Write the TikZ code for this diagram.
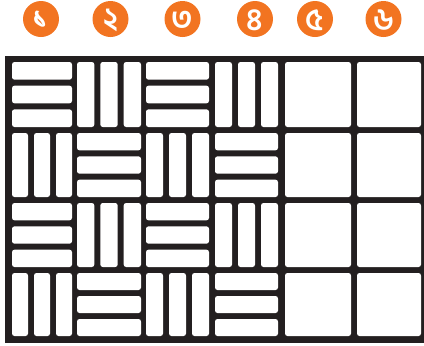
\documentclass[tikz,border=0pt]{standalone}
\usepackage{fontspec}
\newfontfamily\bnfont[Script=Bengali]{Hind Siliguri}
\definecolor{numorange}{RGB}{242,116,33}
\definecolor{inkblack}{RGB}{35,31,32}
\begin{document}
\begin{tikzpicture}[x=1pt,y=-1pt,
  bar/.style={fill=white,rounded corners=2.5pt},
  num/.style={circle,fill=numorange,minimum size=36pt,inner sep=0pt,text=white,
    font=\bnfont\bfseries\fontsize{31}{31}\selectfont}]
\useasboundingbox (0,0) rectangle (424,346);
% number badges
\node[num] (n1) at (41,19) {};
\node[num] (n2) at (110.5,19) {};
\node[num] (n3) at (182.5,19) {};
\node[num] (n4) at (255,19) {};
\node[num] (n5) at (315,19) {};
\node[num] (n6) at (383.5,19) {};
\foreach \n/\d in {n1/১,n2/২,n3/৩,n4/৪,n5/৫,n6/৬}{
  \node[text=white,inner sep=0pt,font=\bnfont\bfseries\fontsize{31}{31}\selectfont] (t\n) at ([yshift=-1pt]\n.center) {\d};
}
% grid background
\fill[inkblack] (5,56) rectangle (424,343);
\foreach \xa/\xb [count=\c] in {12/72,77/141,146/209,215/278,285/351,357/421}{
  \foreach \ya/\yb [count=\r] in {62/127,133/197,203/267,273/336}{
    \pgfmathtruncatemacro\typ{\c>4 ? 2 : mod(\c+\r,2)}
    \ifnum\typ=2
      \fill[bar] (\xa,\ya) rectangle (\xb,\yb);
    \else\ifnum\typ=0
      \pgfmathsetmacro\h{(\yb-\ya-12)/3}
      \foreach \k in {0,1,2}{
        \fill[bar] (\xa,{\ya+\k*(\h+6)}) rectangle (\xb,{\ya+\k*(\h+6)+\h});
      }
    \else
      \pgfmathsetmacro\w{(\xb-\xa-12)/3}
      \foreach \k in {0,1,2}{
        \fill[bar] ({\xa+\k*(\w+6)},\ya) rectangle ({\xa+\k*(\w+6)+\w},\yb);
      }
    \fi\fi
  }
}
\end{tikzpicture}
\end{document}
